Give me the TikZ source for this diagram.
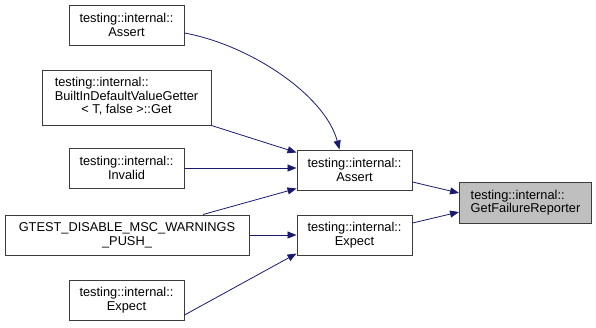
\documentclass[tikz,border=0pt]{standalone}
\usepackage{fontspec}
\setmainfont{Liberation Sans}
\usetikzlibrary{arrows.meta}
\definecolor{edgeblue}{RGB}{25,25,112}
\definecolor{boxline}{RGB}{60,60,60}
\definecolor{focusfill}{RGB}{191,191,191}
\begin{document}
\begin{tikzpicture}[x=1pt,y=-1pt,
  fnbox/.style={draw=boxline, line width=1pt, fill=white, inner sep=0pt, align=center,
    font=\fontsize{12.8}{13.6}\selectfont},
  focus/.style={fnbox, fill=focusfill, align=left},
  call/.style={draw=edgeblue, line width=0.8pt, -{Triangle[length=9pt,width=7pt]}, edgeblue}]
\useasboundingbox (0,0) rectangle (596,327);

% callers on the left
\node[fnbox, minimum width=115pt, minimum height=40pt] (assertA) at (126.5,25) {testing::internal::\\Assert};
\node[fnbox, minimum width=169pt, minimum height=55pt] (builtin) at (126.5,97.5)
  {\begin{tabular}{@{}l@{}}testing::internal::\\BuiltInDefaultValueGetter\\\multicolumn{1}{@{}c@{}}{< T, false >::Get}\end{tabular}};
\node[fnbox, minimum width=115pt, minimum height=40pt] (invalid) at (126.5,168) {testing::internal::\\Invalid};
\node[fnbox, minimum width=244pt, minimum height=40pt] (gtest) at (127,235) {GTEST\_DISABLE\_MSC\_WARNINGS\\\_PUSH\_};
\node[fnbox, minimum width=115pt, minimum height=40pt] (expectA) at (126.5,300) {testing::internal::\\Expect};

% middle column
\node[fnbox, minimum width=115pt, minimum height=40pt] (assertM) at (354.5,170) {testing::internal::\\Assert};
\node[fnbox, minimum width=115pt, minimum height=40pt] (expectM) at (354.5,235) {testing::internal::\\Expect};

% the function of interest
\node[focus, minimum width=132pt, minimum height=41pt] (gfr) at (525.5,202.5) {testing::internal::\\GetFailureReporter};

% call edges
\draw[call] ([yshift=-8pt]assertA.east) .. controls (250,45) and (325,95) .. ([xshift=-15pt]assertM.north);
\draw[call] (builtin.south east) -- ([yshift=-3pt]assertM.north west);
\draw[call] (invalid.east) -- (invalid.east -| assertM.west);
\draw[call] ([xshift=76pt]gtest.north) -- ([yshift=2pt]assertM.south west);
\draw[call] (gtest.east) -- (gtest.east -| expectM.west);
\draw[call] ([yshift=-15pt]expectA.east) -- ([yshift=2pt]expectM.south west);
\draw[call] ([yshift=-12pt]assertM.east) -- ([yshift=9.5pt]gfr.west);
\draw[call] ([yshift=12pt]expectM.east) -- ([yshift=-9.5pt]gfr.west);
\end{tikzpicture}
\end{document}
